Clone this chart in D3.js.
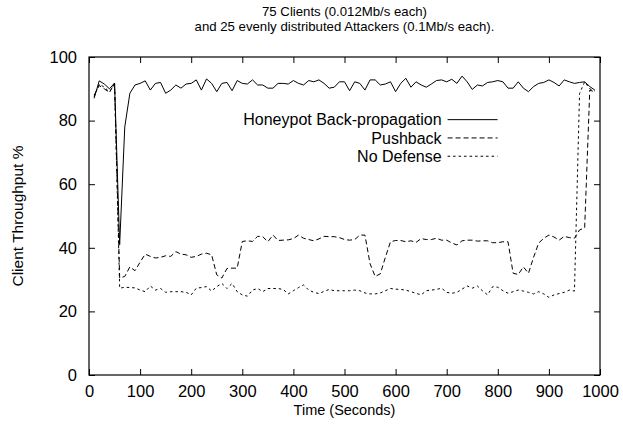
<!DOCTYPE html>
<html>
<head>
<meta charset="utf-8">
<script src="https://cdn.jsdelivr.net/npm/d3@7"></script>
<style>
  body { margin: 0; background: #fff; }
  svg { font-family: "Liberation Sans", Arial, sans-serif; }
</style>
</head>
<body>
<div id="chart"></div>
<script>

// sample times (seconds)
var times = [10, 20, 30, 40, 50, 60, 70, 80, 90, 100,
  110, 120, 130, 140, 150, 160, 170, 180, 190, 200,
  210, 220, 230, 240, 250, 260, 270, 280, 290, 300,
  310, 320, 330, 340, 350, 360, 370, 380, 390, 400,
  410, 420, 430, 440, 450, 460, 470, 480, 490, 500,
  510, 520, 530, 540, 550, 560, 570, 580, 590, 600,
  610, 620, 630, 640, 650, 660, 670, 680, 690, 700,
  710, 720, 730, 740, 750, 760, 770, 780, 790, 800,
  810, 820, 830, 840, 850, 860, 870, 880, 890, 900,
  910, 920, 930, 940, 950, 960, 970, 980, 990]

var honeypot = [87, 92.5, 91.5, 90, 91.8, 41, 78, 88.6, 91.2, 91.7,
  92.5, 89.6, 91.7, 92, 88.6, 89.6, 91.2, 90.2, 91.5, 91.7,
  92.8, 89.6, 93.1, 91.7, 89.1, 91.7, 92, 89.4, 92.6, 91.7,
  91.5, 92.8, 91.2, 91.2, 90.2, 90.2, 91.7, 91.7, 91.5, 92.6,
  91.7, 91.2, 92.6, 92.2, 92.8, 91.7, 90.2, 90.5, 92.2, 92.2,
  89.4, 92.2, 91.7, 89.6, 92.8, 92.8, 91.2, 91.5, 92.2, 89.1,
  91.7, 93.3, 90.5, 92.2, 91.2, 90.5, 91.5, 92.6, 92.8, 92.2,
  93, 91.7, 94, 92.2, 89.8, 91.2, 90.9, 92, 92.2, 92.6,
  92.2, 90.2, 90.2, 92.2, 90.2, 89.1, 90.7, 91.7, 92, 92.8,
  92, 90.9, 92.8, 92.2, 91.7, 92, 92.2, 90.7, 89.6]

var pushback = [88, 91, 90, 88.8, 91.8, 30.5, 31, 34, 32.8, 35.5,
  38, 37.3, 36.8, 37, 37.5, 37.3, 38.8, 38, 37.8, 37,
  37.3, 38, 38.3, 37.8, 31.5, 30.5, 33.5, 33.6, 33.6, 42,
  42.2, 42, 43.6, 43.5, 41.9, 44, 42.3, 42.4, 42.5, 42.9,
  44, 43, 42.6, 42.2, 42.8, 43.6, 43.5, 43.5, 43.2, 42.6,
  42.4, 42.6, 44, 44, 35, 31, 31.8, 37, 41.9, 42.3,
  42.3, 41.9, 42.2, 41.7, 42.9, 42.6, 42.6, 43, 42.4, 42.4,
  41.5, 40.9, 42.2, 42.4, 42.4, 42.1, 42.2, 42.2, 41.6, 41.6,
  41.9, 41.9, 32, 31.6, 34, 32, 37, 41.5, 43, 44,
  43.4, 42.4, 43.6, 43.2, 43, 45.6, 46.3, 89.6, 89]

var noDefense = [87.5, 91.5, 90.5, 89, 91.5, 27.3, 27.6, 27.5, 27.4, 26.7,
  26.2, 28, 26.7, 27.2, 26, 26.2, 26.2, 26.2, 26, 25.2,
  27.3, 27.5, 27.8, 26.4, 27.8, 28.8, 27.2, 28.8, 26.2, 25.2,
  24.8, 26.7, 27.2, 26.2, 27.2, 27.2, 27.2, 26.9, 25.5, 26.5,
  27.5, 28.3, 26.7, 26, 25.6, 26.3, 26.9, 26.5, 26.5, 26.5,
  26.5, 26.7, 26.5, 25.8, 25.5, 25.5, 25.8, 26.5, 27.2, 27,
  26.9, 26.7, 26.2, 25.7, 25.2, 26.5, 26.7, 26.9, 27.3, 26,
  25.7, 26, 27, 28, 27.3, 28, 26.5, 25.2, 27.8, 27.6,
  26.5, 25.7, 26.2, 26.7, 26.4, 26, 25.5, 26.2, 25.5, 24.4,
  25.2, 25.6, 26, 26.7, 26.4, 88.5, 92.2, 90, 89.3]

var seriesNames = ["Honeypot Back-propagation", "Pushback", "No Defense"]
var seriesDash = ["none", "5,3", "2.5,3"]

var xTicks = [0, 100, 200, 300, 400, 500, 600, 700, 800, 900, 1000]
var yTicks = [0, 20, 40, 60, 80, 100]

var titleLines = ["75 Clients (0.012Mb/s each)",
                  "and 25 evenly distributed Attackers (0.1Mb/s each)."]

var margin = {top: 57, right: 23, bottom: 55, left: 89},
    width = 623 - margin.left - margin.right,
    height = 430 - margin.top - margin.bottom;

var svg = d3.select("#chart")
  .append("svg")
    .attr("width", width + margin.left + margin.right)
    .attr("height", height + margin.top + margin.bottom)
  .append("g")
    .attr("transform", "translate(" + margin.left + "," + margin.top + ")");

var x = d3.scaleLinear().domain([0, 1000]).range([0, width]);
var y = d3.scaleLinear().domain([0, 100]).range([height, 0]);

// axes, ticks point inwards like gnuplot
svg.append("g")
  .attr("class", "axis")
  .attr("transform", "translate(0," + height + ")")
  .call(d3.axisBottom(x).tickValues(xTicks).tickFormat(d3.format("d"))
    .tickSize(-6).tickPadding(10).tickSizeOuter(0));

svg.append("g")
  .attr("class", "axis")
  .call(d3.axisLeft(y).tickValues(yTicks).tickSize(-6).tickPadding(12).tickSizeOuter(0));

svg.append("g")
  .attr("class", "axis mirror")
  .call(d3.axisTop(x).tickValues(xTicks).tickSize(-6).tickSizeOuter(0).tickFormat(""));

svg.append("g")
  .attr("class", "axis mirror")
  .attr("transform", "translate(" + width + ",0)")
  .call(d3.axisRight(y).tickValues(yTicks).tickSize(-6).tickSizeOuter(0).tickFormat(""));

svg.selectAll(".axis .domain").remove();
svg.selectAll(".axis text").style("font-size", "16.5px").attr("fill", "#000");
svg.selectAll(".axis line").attr("stroke", "#000");

svg.append("rect")
  .attr("width", width)
  .attr("height", height)
  .attr("fill", "none")
  .attr("stroke", "#000")
  .attr("stroke-width", 1.2);

// lines
var allSeries = [honeypot, pushback, noDefense];

var line = d3.line()
  .x(function(d, i) { return x(times[i]) })
  .y(function(d) { return y(d) });

allSeries.forEach(function(s, k) {
  svg.append("path")
    .datum(s)
    .attr("d", line)
    .attr("fill", "none")
    .attr("stroke", "#000")
    .attr("stroke-width", 1)
    .attr("stroke-dasharray", seriesDash[k]);
});

// legend
var legend = svg.append("g")
  .attr("transform", "translate(" + x(690) + "," + y(80.3) + ")");

seriesNames.forEach(function(name, k) {
  legend.append("text")
    .attr("x", 0)
    .attr("y", k * 18.3)
    .attr("dy", "0.35em")
    .attr("text-anchor", "end")
    .style("font-size", "16px")
    .text(name);
  legend.append("line")
    .attr("x1", 6)
    .attr("x2", 56)
    .attr("y1", k * 18.3)
    .attr("y2", k * 18.3)
    .attr("stroke", "#000")
    .attr("stroke-width", 1)
    .attr("stroke-dasharray", seriesDash[k]);
});

// titles
titleLines.forEach(function(t, k) {
  svg.append("text")
    .attr("x", width / 2)
    .attr("y", -41 + k * 14.5)
    .attr("text-anchor", "middle")
    .style("font-size", "13.2px")
    .text(t);
});

svg.append("text")
  .attr("x", width / 2)
  .attr("y", height + 40)
  .attr("text-anchor", "middle")
  .style("font-size", "14.5px")
  .text("Time (Seconds)");

svg.append("text")
  .attr("transform", "rotate(-90)")
  .attr("x", -height / 2)
  .attr("y", -66)
  .attr("text-anchor", "middle")
  .style("font-size", "15.5px")
  .text("Client Throughput %");

</script>
</body>
</html>
